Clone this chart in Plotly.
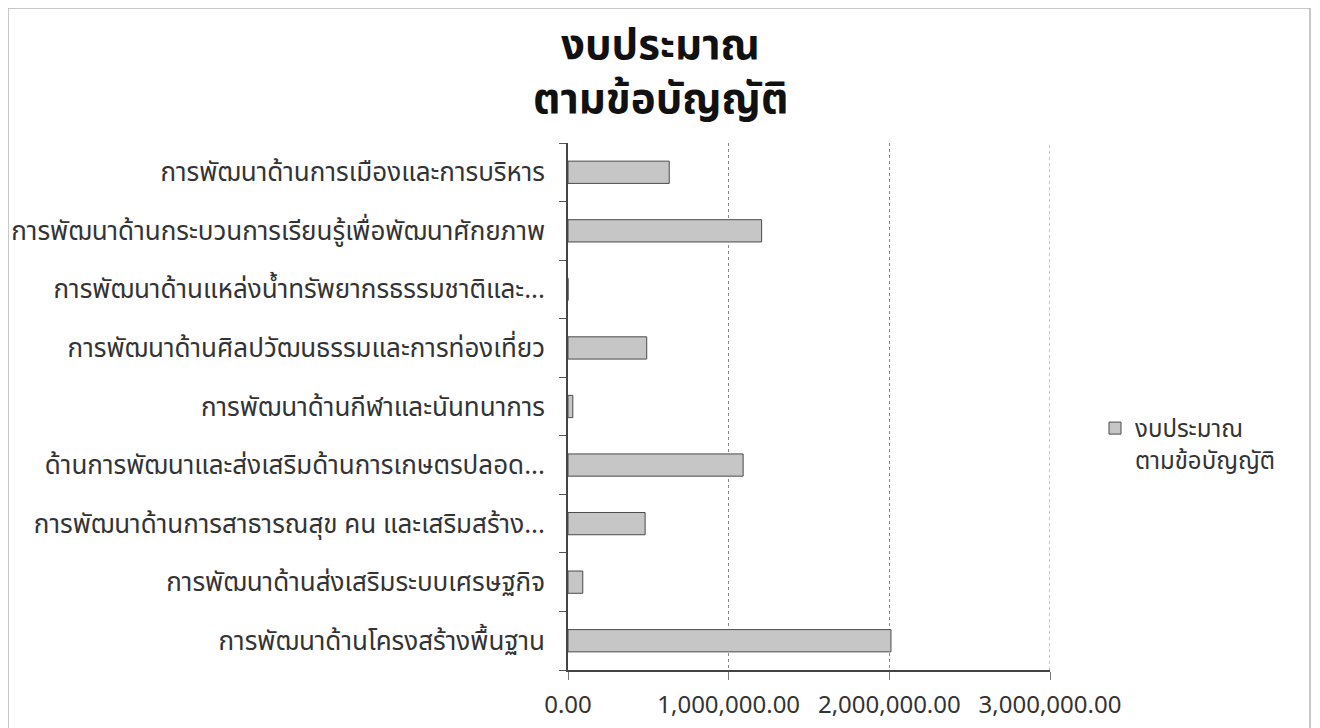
import plotly.graph_objects as go

categories = [
    "การพัฒนาด้านโครงสร้างพื้นฐาน",
    "การพัฒนาด้านส่งเสริมระบบเศรษฐกิจ",
    "การพัฒนาด้านการสาธารณสุข คน และเสริมสร้าง...",
    "ด้านการพัฒนาและส่งเสริมด้านการเกษตรปลอด...",
    "การพัฒนาด้านกีฬาและนันทนาการ",
    "การพัฒนาด้านศิลปวัฒนธรรมและการท่องเที่ยว",
    "การพัฒนาด้านแหล่งน้ำทรัพยากรธรรมชาติและ...",
    "การพัฒนาด้านกระบวนการเรียนรู้เพื่อพัฒนาศักยภาพ",
    "การพัฒนาด้านการเมืองและการบริหาร",
]
budget = [2010000, 92000, 480000, 1090000, 30000, 490000, 0, 1205000, 630000]
series_name = "งบประมาณ<br>ตามข้อบัญญัติ"
title_lines = ["งบประมาณ", "ตามข้อบัญญัติ"]
x_ticks = [0, 1000000, 2000000, 3000000]

FONT = "Tahoma, 'Noto Sans Thai', 'Leelawadee UI', sans-serif"

# page has an 8px body margin; work in page pixels and offset
OFF = 8
W, H = 1320 - OFF, 728 - OFF
L, R, T, B = 568 - OFF, 1050 - OFF, 143 - OFF, 670 - OFF
pw, ph = R - L, B - T


def px(xp):
    return (xp - OFF - L) / pw


def py(yp):
    return (B - (yp - OFF)) / ph


fig = go.Figure()
fig.add_trace(go.Bar(
    y=categories, x=budget, orientation="h", name=series_name,
    marker=dict(color="#c6c6c6", line=dict(color="#4a4a4a", width=1)),
    width=0.38, showlegend=True,
))

fig.update_layout(
    width=W, height=H,
    margin=dict(l=L, r=W - R, t=T, b=H - B, autoexpand=False),
    paper_bgcolor="white", plot_bgcolor="white",
    font=dict(family=FONT, color="#333333", size=22),
    showlegend=True,
    legend=dict(
        x=px(1095), y=py(406), xanchor="left", yanchor="top",
        font=dict(size=24, color="#333333"), bgcolor="rgba(0,0,0,0)",
        itemwidth=30, valign="top",
    ),
    xaxis=dict(
        range=[0, x_ticks[-1]], tickvals=x_ticks, tickformat=",.2f",
        showgrid=True, gridcolor="#8a8a8a", griddash="dot", gridwidth=1,
        showline=True, linecolor="#444444", linewidth=1.5,
        ticks="outside", ticklen=8, tickcolor="#777777",
        tickfont=dict(size=24, color="#333333"), zeroline=False,
        automargin=False, ticklabelstandoff=4,
    ),
    yaxis=dict(
        categoryorder="array", categoryarray=categories,
        showline=True, linecolor="#444444", linewidth=1.5,
        ticks="outside", ticklen=7, tickcolor="#555555", tickson="boundaries",
        tickfont=dict(size=26, color="#333333"), showgrid=False,
        ticklabelstandoff=16, automargin=False,
    ),
)

# gridline at the last tick (plotly omits gridlines on the range edge)
fig.add_shape(
    type="line", xref="x", yref="paper",
    x0=x_ticks[-1], x1=x_ticks[-1], y0=0, y1=1,
    line=dict(color="#8a8a8a", width=1, dash="dot"), layer="below",
)

for i, line in enumerate(title_lines):
    fig.add_annotation(
        text="<b>" + line + "</b>", xref="paper", yref="paper",
        x=px(660), y=py(46 + 54 * i),
        xanchor="center", yanchor="middle", showarrow=False,
        font=dict(family=FONT, size=42, color="#111111"),
    )

fig.add_shape(
    type="rect", xref="paper", yref="paper",
    x0=px(8), x1=px(1310),
    y0=py(745), y1=py(8),
    line=dict(color="#b5b5b5", width=1.5), layer="below",
)

fig.write_html("out.html")
